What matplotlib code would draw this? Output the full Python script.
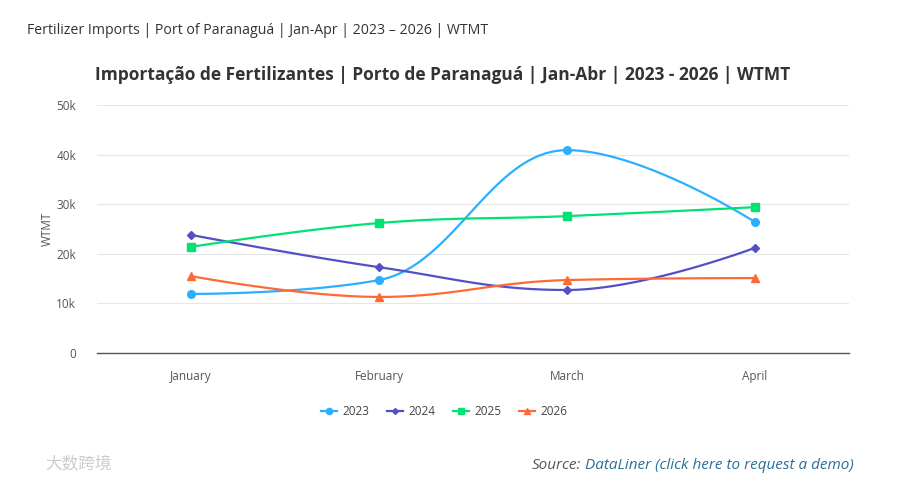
import numpy as np
import matplotlib.pyplot as plt
from matplotlib.ticker import FuncFormatter

plt.rcParams['font.family'] = ['Open Sans', 'DejaVu Sans']

# データ
months = ["January", "February", "March", "April"]
years = ["2023", "2024", "2025", "2026"]
v2023 = [11900, 14700, 40900, 26400]
v2024 = [23800, 17300, 12700, 21200]
v2025 = [21400, 26200, 27600, 29400]
v2026 = [15500, 11300, 14700, 15100]
series = [v2023, v2024, v2025, v2026]

colors = ["#2caffe", "#544fc5", "#00e272", "#fe6a35"]
markers = ["o", "D", "s", "^"]
msizes = [5.5, 4, 5.5, 6]


def spline(xs, ys, n=40):
    # Highcharts風のスプライン（smoothing=1.5）
    xs = np.asarray(xs, float)
    ys = np.asarray(ys, float)
    m = len(xs)
    lx, ly = xs.copy(), ys.copy()
    rx, ry = xs.copy(), ys.copy()
    s, d = 1.5, 2.5
    for i in range(1, m - 1):
        lcx = (s * xs[i] + xs[i - 1]) / d
        lcy = (s * ys[i] + ys[i - 1]) / d
        rcx = (s * xs[i] + xs[i + 1]) / d
        rcy = (s * ys[i] + ys[i + 1]) / d
        corr = (rcy - lcy) * (rcx - xs[i]) / (rcx - lcx) + ys[i] - rcy
        lcy += corr
        rcy += corr
        if lcy > max(ys[i - 1], ys[i]):
            lcy = max(ys[i - 1], ys[i]); rcy = 2 * ys[i] - lcy
        elif lcy < min(ys[i - 1], ys[i]):
            lcy = min(ys[i - 1], ys[i]); rcy = 2 * ys[i] - lcy
        if rcy > max(ys[i + 1], ys[i]):
            rcy = max(ys[i + 1], ys[i]); lcy = 2 * ys[i] - rcy
        elif rcy < min(ys[i + 1], ys[i]):
            rcy = min(ys[i + 1], ys[i]); lcy = 2 * ys[i] - rcy
        lx[i], ly[i], rx[i], ry[i] = lcx, lcy, rcx, rcy
    px, py = [], []
    t = np.linspace(0, 1, n)
    for i in range(m - 1):
        p0 = (xs[i], ys[i]); p1 = (rx[i], ry[i])
        p2 = (lx[i + 1], ly[i + 1]); p3 = (xs[i + 1], ys[i + 1])
        a, b, c, e = (1 - t) ** 3, 3 * (1 - t) ** 2 * t, 3 * (1 - t) * t ** 2, t ** 3
        px.extend(a * p0[0] + b * p1[0] + c * p2[0] + e * p3[0])
        py.extend(a * p0[1] + b * p1[1] + c * p2[1] + e * p3[1])
    return px, py


fig = plt.figure(figsize=(9, 4.83), dpi=100)
ax = fig.add_axes([0.1078, 0.2692, 0.8355, 0.5134])

x = np.arange(len(months))
for vals, col, mk, ms, lab in zip(series, colors, markers, msizes, years):
    sx, sy = spline(x, vals)
    ax.plot(sx, sy, color=col, lw=1.6, zorder=3)
    ax.plot(x, vals, linestyle="none", marker=mk, ms=ms, color=col, zorder=4)
    ax.plot([], [], color=col, lw=1.6, marker=mk, ms=ms - 1, label=lab)

ax.set_xlim(-0.5, 3.5)
ax.set_ylim(0, 50000)
ax.set_yticks(np.arange(0, 50001, 10000))
ax.yaxis.set_major_formatter(FuncFormatter(lambda v, p: "0" if v == 0 else f"{int(v/1000)}k"))
ax.set_xticks(x)
ax.set_xticklabels(months)
ax.tick_params(axis="both", length=0, colors="#555555", labelsize=8.5)
ax.tick_params(axis="x", pad=12)
ax.tick_params(axis="y", pad=15)
ax.grid(axis="y", color="#e6e6e6", lw=0.8)
ax.set_axisbelow(True)
for sp in ["top", "right", "left"]:
    ax.spines[sp].set_visible(False)
ax.spines["bottom"].set_color("#555555")
ax.spines["bottom"].set_linewidth(1)
ax.set_ylabel("WTMT", color="#555555", fontsize=8.5, labelpad=2)

leg = ax.legend(loc="center", bbox_to_anchor=(0.462, -0.235), ncol=4, frameon=False,
                fontsize=8.5, handlelength=1.3, columnspacing=1.5, handletextpad=0.5)
for t in leg.get_texts():
    t.set_color("#444444")

# タイトル類
fig.text(0.03, 0.937, "Fertilizer Imports | Port of Paranaguá | Jan-Apr | 2023 – 2026 | WTMT",
         fontsize=10.2, color="#333333", va="center", fontstretch="semi-condensed")
fig.text(0.492, 0.845, "Importação de Fertilizantes | Porto de Paranaguá | Jan-Abr | 2023 - 2026 | WTMT",
         fontsize=12.5, fontweight="bold", color="#333333", ha="center", va="center")

# 出典
fig.text(0.591, 0.037, "Source:", fontsize=11, style="italic", color="#555555", va="center")
fig.text(0.650, 0.037, "DataLiner (click here to request a demo)", fontsize=11, style="italic",
         color="#2a6f97", va="center")
fig.text(0.05, 0.037, "大数跨境", fontsize=12, color="#cccccc", va="center",
         family=["Noto Sans CJK SC", "DejaVu Sans"])

fig.savefig("out.png", dpi=100)
